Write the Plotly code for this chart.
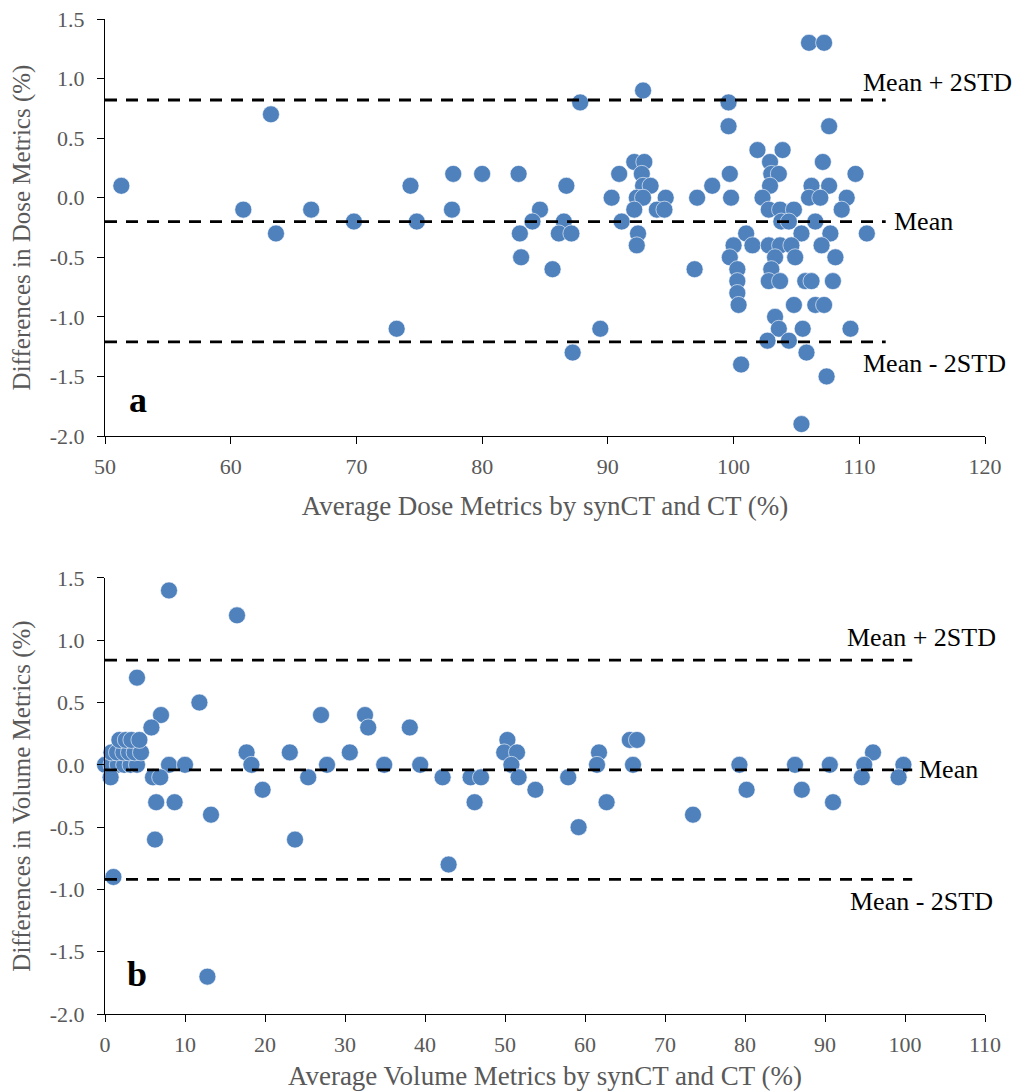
import plotly.graph_objects as go

# ---------------- data ----------------
dose_avg = [51.3, 61.0, 63.2, 63.6, 66.4, 69.8, 73.2, 74.3, 74.8, 77.7, 77.6, 80.0, 82.9, 83.0, 83.1,
            84.6, 84.0, 86.7, 86.5, 86.1, 87.1, 85.6, 87.8, 87.2, 89.4, 90.3, 90.9, 91.1, 92.8, 92.1,
            92.9, 92.7, 92.8, 93.4, 92.3, 92.8, 92.1, 92.4, 92.3, 94.6, 93.9, 94.5, 97.1, 98.3, 96.9,
            99.6, 99.6, 99.7, 99.8,
            106.0, 107.2, 107.6, 101.9, 103.9, 102.9, 107.1, 103.0, 103.6, 109.7, 102.9, 106.2, 107.6,
            102.3, 106.0, 106.9, 109.0, 102.8, 103.7, 104.8, 108.6, 103.8, 104.4, 106.5, 110.6, 101.0,
            105.4, 107.7, 100.0, 101.5, 102.8, 103.7, 104.6, 107.0, 99.7, 103.3, 104.9, 108.1, 100.3,
            103.0, 100.3, 102.8, 103.7, 105.7, 106.2, 107.9, 100.3, 100.4, 104.8, 106.5, 107.2, 103.3,
            103.6, 105.5, 109.3, 102.7, 104.4, 105.8, 100.6, 107.4, 105.4]
dose_diff = [0.1, -0.1, 0.7, -0.3, -0.1, -0.2, -1.1, 0.1, -0.2, 0.2, -0.1, 0.2, 0.2, -0.3, -0.5,
             -0.1, -0.2, 0.1, -0.2, -0.3, -0.3, -0.6, 0.8, -1.3, -1.1, 0.0, 0.2, -0.2, 0.9, 0.3,
             0.3, 0.2, 0.1, 0.1, 0.0, 0.0, -0.1, -0.3, -0.4, 0.0, -0.1, -0.1, 0.0, 0.1, -0.6,
             0.8, 0.6, 0.2, 0.0,
             1.3, 1.3, 0.6, 0.4, 0.4, 0.3, 0.3, 0.2, 0.2, 0.2, 0.1, 0.1, 0.1,
             0.0, 0.0, 0.0, 0.0, -0.1, -0.1, -0.1, -0.1, -0.2, -0.2, -0.2, -0.3, -0.3,
             -0.3, -0.3, -0.4, -0.4, -0.4, -0.4, -0.4, -0.4, -0.5, -0.5, -0.5, -0.5, -0.6,
             -0.6, -0.7, -0.7, -0.7, -0.7, -0.7, -0.7, -0.8, -0.9, -0.9, -0.9, -0.9, -1.0,
             -1.1, -1.1, -1.1, -1.2, -1.2, -1.3, -1.4, -1.5, -1.9]

vol_avg = [0.0, 0.8, 1.6, 2.4, 3.2, 4.0, 0.8, 1.5, 2.3, 3.0, 3.7, 4.5, 1.8, 2.6, 3.3, 4.3, 0.7, 1.05,
           8.0, 16.5, 4.0, 11.8, 7.0, 5.8, 8.0, 10.0, 6.0, 6.9, 6.4, 8.7, 6.25, 13.25, 12.8, 17.7,
           18.3, 19.7, 23.1, 23.75, 25.4, 27.0, 27.75, 30.6, 32.5, 32.9, 34.9, 38.1, 39.4, 42.2,
           42.95, 45.7, 47.0, 46.2, 50.3, 49.9, 51.5, 50.8, 51.7, 53.8, 57.9, 59.2, 61.75, 61.5,
           62.7, 65.6, 66.5, 66.0, 73.5, 79.3, 80.2, 86.25, 87.1, 90.6, 91.0, 96.0, 94.9, 94.6,
           99.8, 99.2]
vol_diff = [0.0, 0.0, 0.0, 0.0, 0.0, 0.0, 0.1, 0.1, 0.1, 0.1, 0.1, 0.1, 0.2, 0.2, 0.2, 0.2, -0.1, -0.9,
            1.4, 1.2, 0.7, 0.5, 0.4, 0.3, 0.0, 0.0, -0.1, -0.1, -0.3, -0.3, -0.6, -0.4, -1.7, 0.1,
            0.0, -0.2, 0.1, -0.6, -0.1, 0.4, 0.0, 0.1, 0.4, 0.3, 0.0, 0.3, 0.0, -0.1,
            -0.8, -0.1, -0.1, -0.3, 0.2, 0.1, 0.1, 0.0, -0.1, -0.2, -0.1, -0.5, 0.1, 0.0,
            -0.3, 0.2, 0.2, 0.0, -0.4, 0.0, -0.2, 0.0, -0.2, 0.0, -0.3, 0.1, 0.0, -0.1,
            0.0, -0.1]

# limits of agreement: mean, mean+2STD, mean-2STD
dose_limits = [-0.2, 0.82, -1.21]
vol_limits = [-0.04, 0.84, -0.92]
dose_line_x = [50, 112.1]
vol_line_x = [0, 100.9]

y_tickvals = [1.5, 1.0, 0.5, 0.0, -0.5, -1.0, -1.5, -2.0]
y_ticktext = ["1.5", "1.0", "0.5", "0.0", "-0.5", "-1.0", "-1.5", "-2.0"]
dose_xticks = [50, 60, 70, 80, 90, 100, 110, 120]
vol_xticks = [0, 10, 20, 30, 40, 50, 60, 70, 80, 90, 100, 110]

# ---------------- figure ----------------
FONT = "Liberation Serif, Times New Roman, serif"
GRAY = "#595959"
BLUE = "#4F81BD"

fig = go.Figure()

marker = dict(size=17, color=BLUE, line=dict(color="white", width=0.6))

fig.add_trace(go.Scatter(x=dose_avg, y=dose_diff, mode="markers", marker=marker,
                         xaxis="x", yaxis="y", showlegend=False, cliponaxis=False))
fig.add_trace(go.Scatter(x=vol_avg, y=vol_diff, mode="markers", marker=marker,
                         xaxis="x2", yaxis="y2", showlegend=False, cliponaxis=False))

dash_line = dict(color="black", width=2.8, dash="12px,9px")
for v in dose_limits:
    fig.add_trace(go.Scatter(x=dose_line_x, y=[v, v], mode="lines", line=dash_line,
                             xaxis="x", yaxis="y", showlegend=False, hoverinfo="skip"))
for v in vol_limits:
    fig.add_trace(go.Scatter(x=vol_line_x, y=[v, v], mode="lines", line=dash_line,
                             xaxis="x2", yaxis="y2", showlegend=False, hoverinfo="skip"))

axis_common = dict(showgrid=False, zeroline=False, showline=True, linecolor="black", linewidth=1.2,
                   ticks="outside", ticklen=7, tickcolor="black", tickwidth=1, automargin=False,
                   ticklabeloverflow="allow",
                   tickfont=dict(family=FONT, size=22, color=GRAY), mirror=False)

xt_font = dict(family=FONT, size=27, color=GRAY)
yt_font = dict(family=FONT, size=25, color=GRAY)

fig.update_layout(
    width=1027, height=1092,
    paper_bgcolor="white", plot_bgcolor="white",
    margin=dict(l=97, r=50, t=11, b=86),
    font=dict(family=FONT),
    xaxis=dict(domain=[0, 1], range=[50, 120], tickvals=dose_xticks, anchor="y",
               ticklabelstandoff=3,
               title=dict(text="Average Dose Metrics by synCT and CT (%)", font=xt_font, standoff=18),
               **axis_common),
    yaxis=dict(domain=[0.5809, 1.0], range=[-2.0, 1.5], tickvals=y_tickvals, ticktext=y_ticktext,
               anchor="x", ticklabelstandoff=8,
               title=dict(text="Differences in Dose Metrics (%)", font=yt_font, standoff=14),
               **axis_common),
    xaxis2=dict(domain=[0, 1], range=[0, 110], tickvals=vol_xticks, anchor="y2",
                ticklabelstandoff=3,
                title=dict(text="Average Volume Metrics by synCT and CT (%)", font=xt_font, standoff=10),
                **axis_common),
    yaxis2=dict(domain=[0.0, 0.4382], range=[-2.0, 1.5], tickvals=y_tickvals, ticktext=y_ticktext,
                anchor="x2", ticklabelstandoff=8,
                title=dict(text="Differences in Volume Metrics (%)", font=yt_font, standoff=14),
                **axis_common),
)

ann_font = dict(family=FONT, size=26, color="black")
annotations = [
    dict(x=116.2, y=0.97, xref="x", yref="y", text="Mean + 2STD", showarrow=False, font=ann_font),
    dict(x=112.6, y=dose_limits[0], xref="x", yref="y", text="Mean", showarrow=False,
         font=ann_font, xanchor="left"),
    dict(x=116.0, y=-1.39, xref="x", yref="y", text="Mean - 2STD", showarrow=False, font=ann_font),
    dict(x=52.6, y=-1.70, xref="x", yref="y", text="<b>a</b>", showarrow=False,
         font=dict(family=FONT, size=36, color="black")),
    dict(x=102.0, y=1.02, xref="x2", yref="y2", text="Mean + 2STD", showarrow=False, font=ann_font),
    dict(x=101.5, y=vol_limits[0], xref="x2", yref="y2", text="Mean", showarrow=False,
         font=ann_font, xanchor="left"),
    dict(x=102.1, y=-1.10, xref="x2", yref="y2", text="Mean - 2STD", showarrow=False, font=ann_font),
    dict(x=4.0, y=-1.68, xref="x2", yref="y2", text="<b>b</b>", showarrow=False,
         font=dict(family=FONT, size=36, color="black")),
]
fig.update_layout(annotations=annotations)

fig.write_html("out.html")
